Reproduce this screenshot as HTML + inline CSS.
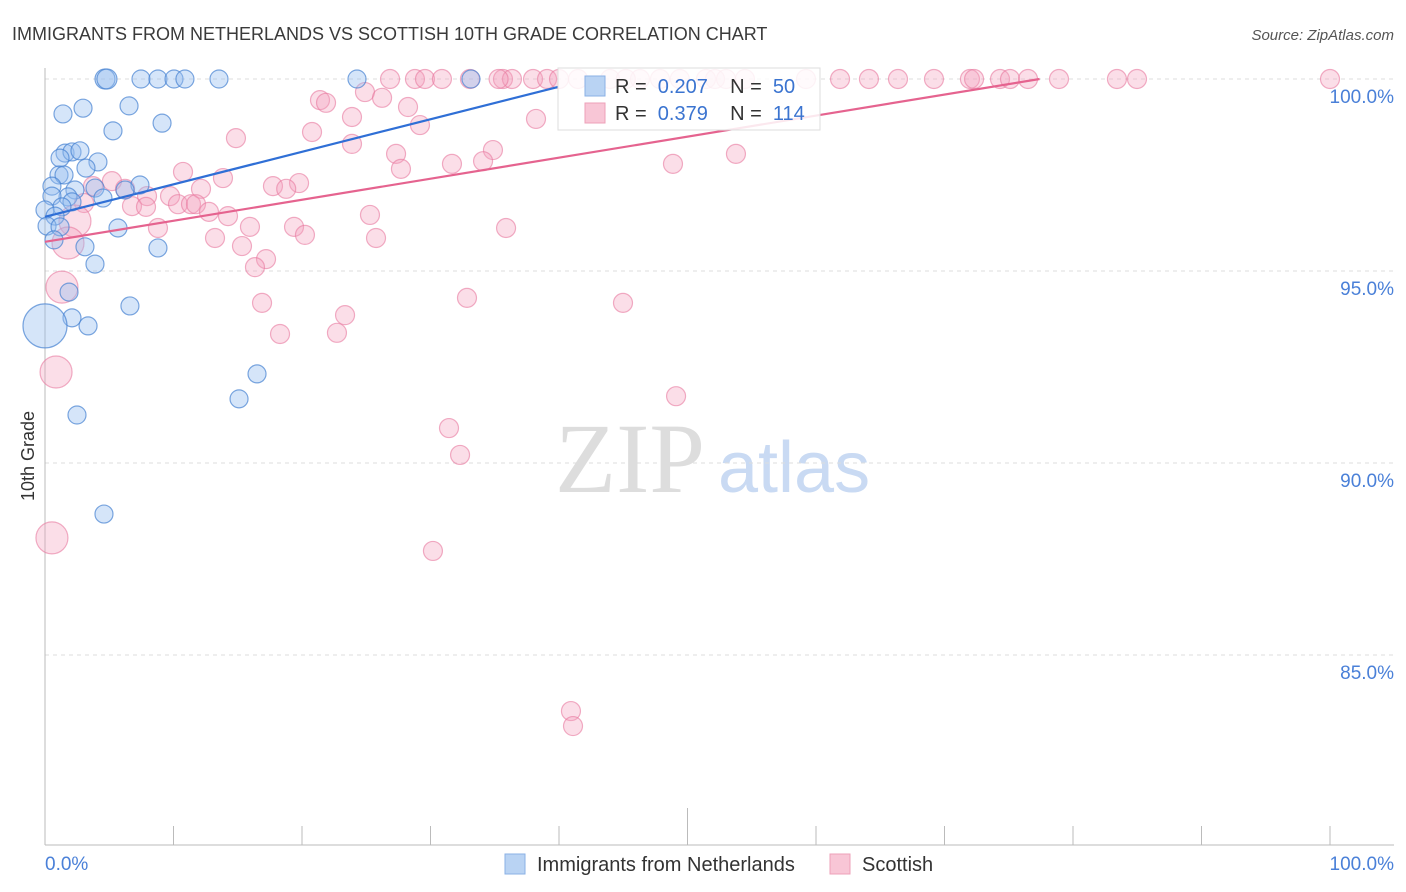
<!DOCTYPE html>
<html><head><meta charset="utf-8">
<style>
body{margin:0;background:#fff;font-family:"Liberation Sans",sans-serif;}
#wrap{position:relative;width:1406px;height:892px;overflow:hidden;}
</style></head>
<body>
<div id="wrap">
<svg id="svg" width="1406" height="892">
<text x="12" y="40" font-size="18" fill="#3a3a3a">IMMIGRANTS FROM NETHERLANDS VS SCOTTISH 10TH GRADE CORRELATION CHART</text>
<text x="1394" y="40" font-size="15" fill="#555" text-anchor="end" font-style="italic">Source: ZipAtlas.com</text>
<text x="34" y="456" font-size="18" fill="#333" transform="rotate(-90 34 456)" text-anchor="middle">10th Grade</text>
<text x="555" y="492" font-size="100" fill="#ddd" font-family="Liberation Serif">ZIP</text>
<text x="718" y="492" font-size="72" fill="#c9daf3">atlas</text>
<g id="grid"></g><g id="pts"></g><g id="lines"></g>
<g>
<rect x="558" y="68" width="262" height="62" fill="rgba(255,255,255,0.85)" stroke="#ddd"/>
<rect x="585" y="76" width="20" height="20" fill="#b9d3f3" stroke="#8ab0e6"/>
<text x="615" y="93" font-size="20" fill="#333" xml:space="preserve">R =  <tspan fill="#3b74d0">0.207</tspan>    N =  <tspan fill="#3b74d0">50</tspan></text>
<rect x="585" y="103" width="20" height="20" fill="#f8c6d6" stroke="#eea0b8"/>
<text x="615" y="120" font-size="20" fill="#333" xml:space="preserve">R =  <tspan fill="#3b74d0">0.379</tspan>    N =  <tspan fill="#3b74d0">114</tspan></text>
</g>
<g>
<rect x="505" y="854" width="20" height="20" fill="#b9d3f3" stroke="#8ab0e6"/>
<text x="537" y="871" font-size="20" fill="#333">Immigrants from Netherlands</text>
<rect x="830" y="854" width="20" height="20" fill="#f8c6d6" stroke="#eea0b8"/>
<text x="862" y="871" font-size="20" fill="#333">Scottish</text>
</g>
<text x="45" y="870" font-size="19" fill="#4a80d8">0.0%</text>
<text x="1394" y="870" font-size="19" fill="#4a80d8" text-anchor="end">100.0%</text>
</svg>
</div>
<script>
const yTicks=[100,95,90,85];
const yTickLabels=["100.0%","95.0%","90.0%","85.0%"];
const xTicks=[0,10,20,30,40,50,60,70,80,90,100];
const blueX=[4.67,4.82,7.47,8.79,10.04,10.89,13.54,24.28,33.15,1.40,2.96,6.54,9.11,5.29,1.56,2.10,2.72,1.17,4.12,3.19,1.09,1.48,7.39,2.33,0.54,3.89,6.23,1.79,0.54,4.51,2.10,1.32,0,0.78,0.16,1.17,5.68,0.70,3.11,8.79,3.89,1.87,6.61,2.10,3.35,0,16.50,15.10,2.49,4.59];
const blueY=[100,100,100,100,100,100,100,100,100,99.09,99.24,99.30,98.85,98.65,98.07,98.10,98.13,97.94,97.84,97.68,97.50,97.50,97.24,97.11,97.21,97.16,97.11,96.93,96.95,96.90,96.80,96.67,96.59,96.43,96.17,96.15,96.12,95.81,95.63,95.60,95.18,94.45,94.09,93.78,93.57,93.57,92.32,91.67,91.25,88.67];
const blueR=[10,10,9,9,9,9,9,9,9,9,9,9,9,9,9,9,9,9,9,9,9,9,9,9,9,9,9,9,9,9,9,9,9,9,9,9,9,9,9,9,9,9,9,9,9,22,9,9,9,9];
const pinkX=[26.85,28.79,29.57,30.89,33.07,35.64,36.34,37.98,39.07,41.48,43.97,46.30,47.86,51.44,52.14,54.47,59.22,61.87,64.12,66.38,69.18,71.98,72.30,74.32,75.10,76.50,78.91,83.42,84.98,100,21.40,21.87,24.90,26.23,28.25,23.89,20.78,29.18,38.21,14.86,23.89,27.32,34.86,34.09,31.67,27.70,48.87,53.77,10.74,13.85,5.21,17.74,19.77,18.77,3.74,6.23,12.14,7.94,9.73,3.04,6.77,7.86,10.35,11.36,11.75,12.76,14.24,2.33,8.79,15.95,19.38,20.23,13.23,15.33,25.76,25.29,35.88,1.79,17.20,16.34,1.32,16.89,32.84,44.98,23.35,18.29,22.72,0.86,49.11,31.44,32.30,0.54,30.19,40.93,41.09,35.3,40.0,45.2,49.4,53.0];
const pinkY=[100,100,100,100,100,100,100,100,100,100,100,100,100,100,100,100,100,100,100,100,100,100,100,100,100,100,100,100,100,100,99.45,99.38,99.66,99.51,99.27,99.01,98.62,98.80,98.96,98.46,98.31,98.05,98.15,97.86,97.79,97.66,97.79,98.05,97.58,97.42,97.34,97.21,97.29,97.14,97.21,97.14,97.14,96.95,96.95,96.77,96.69,96.67,96.74,96.74,96.74,96.54,96.43,96.30,96.12,96.15,96.15,95.94,95.86,95.65,95.86,96.46,96.12,95.73,95.31,95.10,94.58,94.17,94.30,94.17,93.85,93.36,93.39,92.37,91.74,90.91,90.21,88.05,87.71,83.54,83.15,100,100,100,100,100];
const pinkBig=[67,77,80,87,91];
const blueLine=[[0,96.41],[39.9,99.79]];
const pinkLine=[[0,95.76],[77.4,100]];
const X=v=>45+v*12.85, Y=v=>79+(100-v)*38.4;
const NS="http://www.w3.org/2000/svg";
function mk(t,a,p){const e=document.createElementNS(NS,t);for(const k in a)e.setAttribute(k,a[k]);p.appendChild(e);return e;}
const grid=document.getElementById('grid');
yTicks.forEach((t,i)=>{
 const l=mk('line',{x1:45,x2:1394,y1:Y(t),y2:Y(t),stroke:'#ddd','stroke-dasharray':'4,4'},grid);
 
 
 const tx=mk('text',{x:1394,y:Y(t)+24,'font-size':19,fill:'#4a80d8','text-anchor':'end'},grid);
 tx.textContent=yTickLabels[i];
 
 
});
const ax=mk('line',{x1:45,x2:45,y1:68,y2:845,stroke:'#bbb'},grid);


const bx=mk('line',{x1:45,x2:1394,y1:845,y2:845,stroke:'#bbb'},grid);


xTicks.forEach(t=>{
 const l=mk('line',{x1:X(t),x2:X(t),y1:t==50?808:826,y2:845,stroke:'#bbb'},grid);
 
 
});
const pts=document.getElementById('pts');
pinkX.forEach((x,i)=>{
 const c=mk('circle',{cx:X(x),cy:Y(pinkY[i]),r:pinkBig.includes(i)?16:9.5,fill:'rgba(244,160,188,0.35)',stroke:'rgba(232,120,158,0.6)','stroke-width':1.2},pts);
 
 
});
blueX.forEach((x,i)=>{
 const c=mk('circle',{cx:X(x),cy:Y(blueY[i]),r:blueR[i],fill:'rgba(150,190,240,0.4)',stroke:'rgba(70,130,210,0.7)','stroke-width':1.2},pts);
 
 
});
const lines=document.getElementById('lines');
const bl=mk('line',{x1:X(blueLine[0][0]),y1:Y(blueLine[0][1]),x2:X(blueLine[1][0]),y2:Y(blueLine[1][1]),stroke:'#2f6fd6','stroke-width':2.2},lines);


const pl=mk('line',{x1:X(pinkLine[0][0]),y1:Y(pinkLine[0][1]),x2:X(pinkLine[1][0]),y2:Y(pinkLine[1][1]),stroke:'#e5638f','stroke-width':2.2},lines);


</script>
</body></html>
